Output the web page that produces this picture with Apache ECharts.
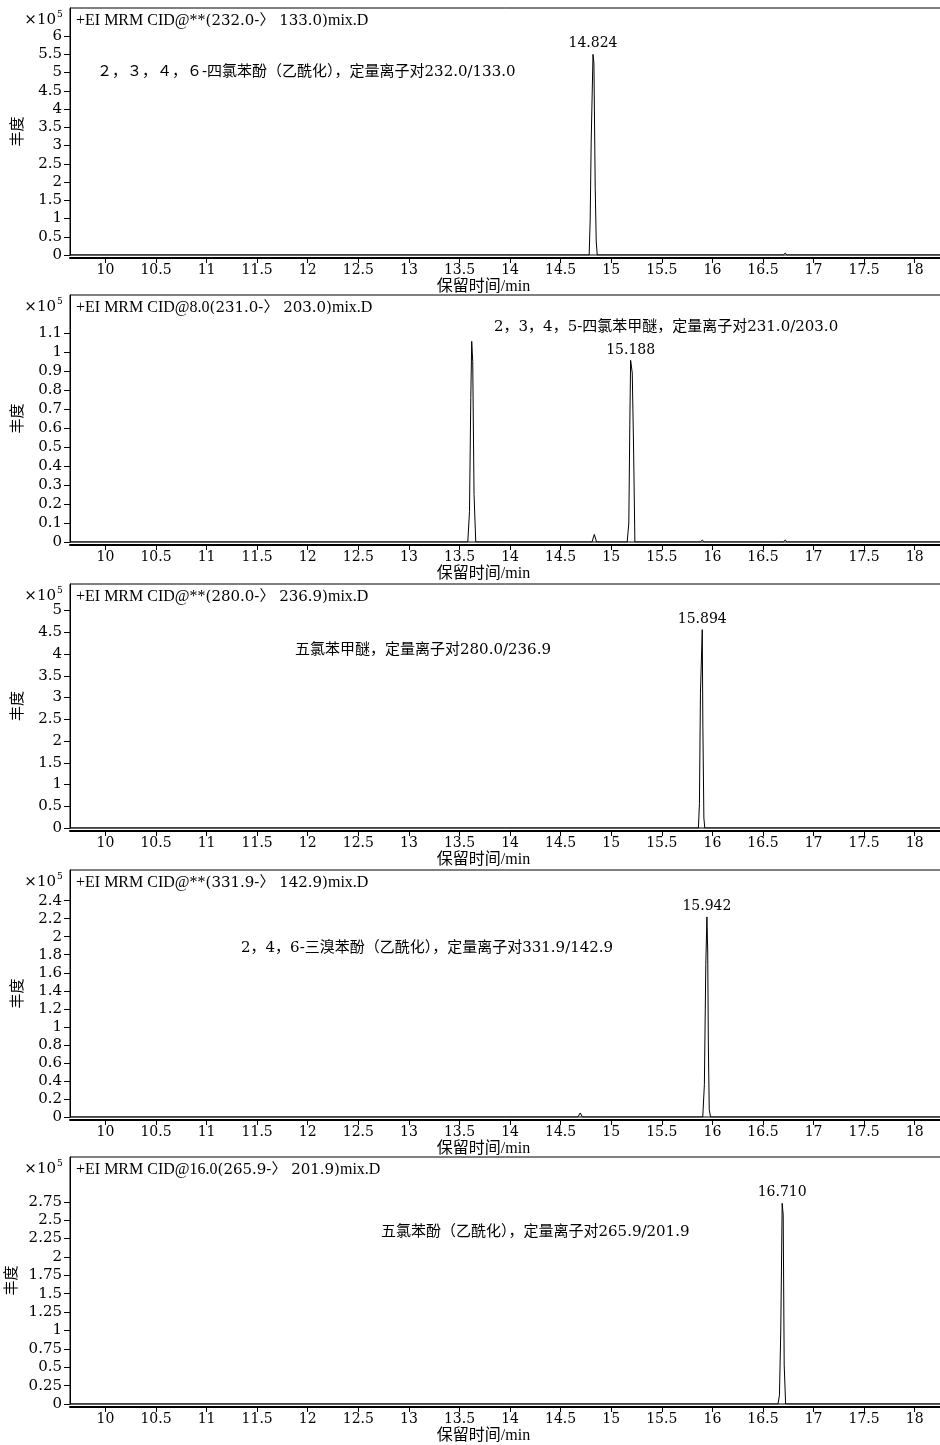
<!DOCTYPE html>
<html><head><meta charset="utf-8">
<script src="https://cdn.jsdelivr.net/npm/echarts@6/dist/echarts.min.js"></script>
<style>html,body{margin:0;padding:0;background:#fff}#c{width:940px;height:1445px}</style>
</head><body><div id="c"></div><script>
// ---- data ----
const xTicks = [10,10.5,11,11.5,12,12.5,13,13.5,14,14.5,15,15.5,16,16.5,17,17.5,18];
const xRange = [9.65, 18.26];

const headers = [
  '+EI MRM CID@**(232.0-〉 133.0)mix.D',
  '+EI MRM CID@8.0(231.0-〉 203.0)mix.D',
  '+EI MRM CID@**(280.0-〉 236.9)mix.D',
  '+EI MRM CID@**(331.9-〉 142.9)mix.D',
  '+EI MRM CID@16.0(265.9-〉 201.9)mix.D'
];
const notes = [
  '２，３，４，６-四氯苯酚（乙酰化），定量离子对232.0/133.0',
  '2，3，4，5-四氯苯甲醚，定量离子对231.0/203.0',
  '五氯苯甲醚，定量离子对280.0/236.9',
  '2，4，6-三溴苯酚（乙酰化），定量离子对331.9/142.9',
  '五氯苯酚（乙酰化），定量离子对265.9/201.9'
];
const peakLabels = ['14.824','15.188','15.894','15.942','16.710'];
const peakTimes = [14.82, 15.192, 15.90, 15.946, 16.69];

const p1Time = [9.65, 14.782, 14.792, 14.802, 14.82, 14.829, 14.842, 14.852, 14.862, 16.70, 16.72, 16.74, 17.34, 17.35, 17.36, 18.26];
const p1Abund = [0, 0, 0.96, 3.1, 5.5, 5.26, 1.83, 0.36, 0, 0, 0.05, 0, 0, 0.02, 0, 0];
const p1YTicks = [0,0.5,1,1.5,2,2.5,3,3.5,4,4.5,5,5.5,6];

const p2Time = [9.65, 13.582, 13.599, 13.612, 13.621, 13.631, 13.644, 13.661, 14.81, 14.833, 14.855, 15.158, 15.174, 15.184, 15.192, 15.208, 15.221, 15.234, 15.88, 15.90, 15.92, 16.70, 16.72, 16.74, 18.26];
const p2Abund = [0, 0, 0.16, 0.76, 1.056, 0.95, 0.25, 0, 0, 0.04, 0, 0, 0.1, 0.62, 0.956, 0.89, 0.5, 0, 0, 0.01, 0, 0, 0.01, 0, 0];
const p2YTicks = [0,0.1,0.2,0.3,0.4,0.5,0.6,0.7,0.8,0.9,1,1.1];

const p3Time = [9.65, 15.862, 15.872, 15.882, 15.90, 15.906, 15.916, 15.925, 18.26];
const p3Abund = [0, 0, 0.56, 3.1, 4.56, 2.34, 0.23, 0, 0];
const p3YTicks = [0,0.5,1,1.5,2,2.5,3,3.5,4,4.5,5];

const p4Time = [9.65, 14.67, 14.694, 14.715, 14.91, 14.928, 14.945, 15.905, 15.921, 15.935, 15.946, 15.954, 15.960, 15.969, 15.982, 18.26];
const p4Abund = [0, 0, 0.045, 0, 0, 0.02, 0, 0, 0.36, 1.69, 2.22, 1.83, 0.82, 0.08, 0, 0];
const p4YTicks = [0,0.2,0.4,0.6,0.8,1,1.2,1.4,1.6,1.8,2,2.2,2.4];

const p5Time = [9.65, 16.649, 16.663, 16.676, 16.69, 16.70, 16.71, 16.724, 18.26];
const p5Abund = [0, 0, 0.12, 0.98, 2.73, 2.57, 0.53, 0, 0];
const p5YTicks = [0,0.25,0.5,0.75,1,1.25,1.5,1.75,2,2.25,2.5,2.75];

const xName = '保留时间/min';
const yName = '丰度';

// ---- layout ----
const gridTop = [8, 295, 584, 870, 1157];
const gridHeight = [247, 247, 244, 247, 247];
const yMax = [6.77, 1.30, 5.61, 2.74, 3.36];
const notePos = [[97, 64], [494, 32], [295, 66], [241, 78], [381, 75]];

const times = [p1Time, p2Time, p3Time, p4Time, p5Time];
const abunds = [p1Abund, p2Abund, p3Abund, p4Abund, p5Abund];
const yTicks = [p1YTicks, p2YTicks, p3YTicks, p4YTicks, p5YTicks];

const NUM_FONT = 'DejaVu Serif';
const CJK_FONT = '"DejaVu Serif","Noto Sans CJK SC"';

const grids = [], xAxes = [], yAxes = [], series = [], graphics = [];
for (let i = 0; i < 5; i++) {
  grids.push({left: 70, width: 871, top: gridTop[i], height: gridHeight[i], show: true,
    borderColor: '#000', borderWidth: 1, backgroundColor: 'transparent',
    containLabel: false, outerBoundsMode: 'none'});
  xAxes.push({gridIndex: i, type: 'value', min: xRange[0], max: xRange[1], offset: 3,
    axisLine: {show: true, onZero: false, lineStyle: {color: '#000', width: 2}},
    axisTick: {show: true, length: 5, customValues: xTicks, lineStyle: {color: '#000', width: 1}},
    axisLabel: {customValues: xTicks, margin: 5, fontSize: 14, fontFamily: NUM_FONT, color: '#000',
      formatter: v => String(v)},
    splitLine: {show: false},
    name: xName, nameLocation: 'middle', nameGap: 21,
    nameTextStyle: {fontFamily: '"Liberation Serif","Noto Sans CJK SC"', fontSize: 16, color: '#000', padding: [0, 44, 0, 0]}
  });
  yAxes.push({gridIndex: i, type: 'value', min: 0, max: yMax[i],
    axisLine: {show: true, onZero: false, lineStyle: {color: '#000', width: 1}},
    axisTick: {show: true, length: 6, customValues: yTicks[i], lineStyle: {color: '#000'}},
    axisLabel: {customValues: yTicks[i], margin: 8, fontSize: 15, fontFamily: NUM_FONT, color: '#000',
      formatter: v => String(v)},
    splitLine: {show: false},
    name: yName, nameLocation: 'middle', nameGap: 46, nameRotate: 90,
    nameTextStyle: {fontFamily: 'Noto Sans CJK SC', fontSize: 15, color: '#000'}
  });
  const t = times[i], a = abunds[i];
  series.push({type: 'line', xAxisIndex: i, yAxisIndex: i, symbol: 'none', silent: true,
    animation: false, lineStyle: {color: '#000', width: 1},
    data: t.map((tt, j) => [tt, a[j]])});
  const k = t.indexOf(peakTimes[i]);
  series.push({type: 'scatter', xAxisIndex: i, yAxisIndex: i, silent: true, animation: false,
    symbolSize: 1, itemStyle: {color: 'transparent'},
    data: [[t[k], a[k]]],
    label: {show: true, position: 'top', distance: 3, formatter: peakLabels[i], opacity: 1,
      fontFamily: NUM_FONT, fontSize: 14, color: '#000', textBorderWidth: 0}});

  const top = gridTop[i];
  const m = headers[i].match(/^(.*?)(\(.*\))(.*)$/);
  graphics.push({type: 'text', x: 76, y: top + 13, silent: true, style: {
    text: '{a|' + m[1] + '}{b|' + m[2] + '}{a|' + m[3] + '}',
    verticalAlign: 'middle', align: 'left', fill: '#000',
    rich: {a: {fontFamily: 'Liberation Serif', fontSize: 16, fill: '#000'},
           b: {fontFamily: CJK_FONT, fontSize: 15, fill: '#000'}}}});
  graphics.push({type: 'text', x: 56, y: top + 12, silent: true, style: {
    text: '×10', fontFamily: NUM_FONT, fontSize: 15, fill: '#000', align: 'right', verticalAlign: 'middle'}});
  graphics.push({type: 'text', x: 57, y: top + 7, silent: true, style: {
    text: '5', fontFamily: NUM_FONT, fontSize: 9, fill: '#000', align: 'left', verticalAlign: 'middle'}});
  graphics.push({type: 'text', x: notePos[i][0], y: top + notePos[i][1], silent: true, style: {
    text: notes[i], fontFamily: CJK_FONT, fontSize: 15, fill: '#000', align: 'left', verticalAlign: 'middle'}});
}

const chart = echarts.init(document.getElementById('c'), null, {renderer: 'canvas'});
chart.setOption({
  backgroundColor: '#fff',
  animation: false,
  grid: grids, xAxis: xAxes, yAxis: yAxes, series: series, graphic: graphics
});
</script></body></html>
